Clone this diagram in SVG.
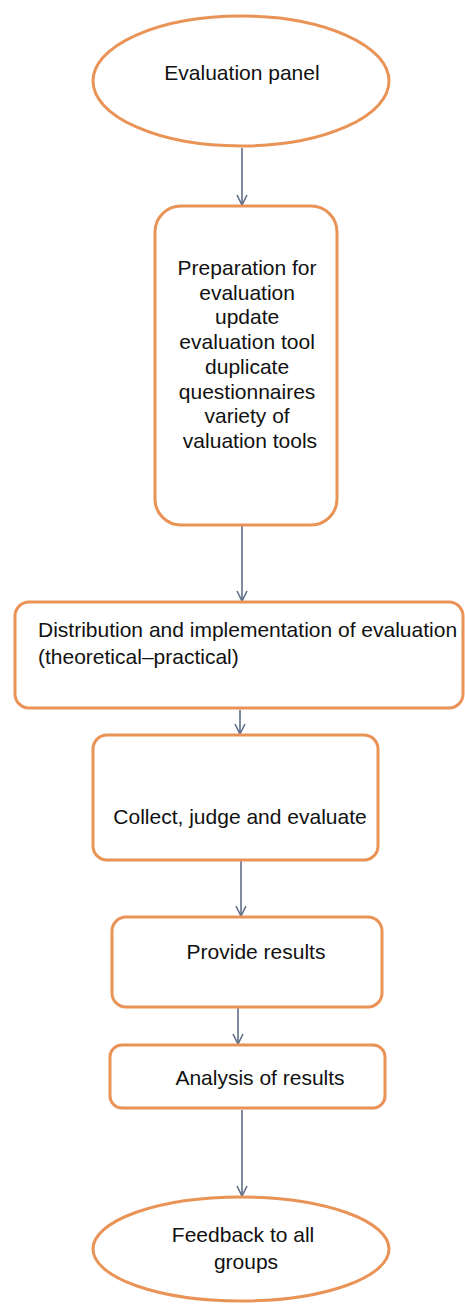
<svg xmlns="http://www.w3.org/2000/svg" width="465" height="1309" viewBox="0 0 465 1309">
<style>
.n{fill:#fff;stroke:#E99357;stroke-width:3}
.t{font-family:"Liberation Sans",Arial,sans-serif;font-size:21px;fill:#111}
.c{stroke:#5E6E8A;stroke-width:1.6;fill:none}
</style>
<defs>
<marker id="ah" viewBox="0 0 12 12" refX="11" refY="6" markerWidth="12" markerHeight="12" markerUnits="userSpaceOnUse" orient="auto">
<path d="M1,1 L11,6 L1,11" fill="none" stroke="#5E6E8A" stroke-width="1.6"/>
</marker>
</defs>
<rect width="465" height="1309" fill="#fff"/>
<g id="connectors">
<line class="c" x1="242" y1="148" x2="242" y2="205" marker-end="url(#ah)"/>
<line class="c" x1="242" y1="526" x2="242" y2="601" marker-end="url(#ah)"/>
<line class="c" x1="240" y1="710" x2="240" y2="734" marker-end="url(#ah)"/>
<line class="c" x1="241" y1="861" x2="241" y2="916" marker-end="url(#ah)"/>
<line class="c" x1="238" y1="1008" x2="238" y2="1044" marker-end="url(#ah)"/>
<line class="c" x1="242" y1="1110" x2="242" y2="1196" marker-end="url(#ah)"/>
</g>
<g id="n1">
<ellipse class="n" cx="241" cy="81" rx="148" ry="65"/>
<text class="t" x="242" y="80" text-anchor="middle">Evaluation panel</text>
</g>
<g id="n2">
<rect class="n" x="155" y="206" width="182" height="319" rx="26"/>
<text class="t" text-anchor="middle">
<tspan x="250" y="275">Preparation for</tspan>
<tspan x="250" y="299.7">evaluation</tspan>
<tspan x="250" y="324.4">update</tspan>
<tspan x="250" y="349.1">evaluation tool</tspan>
<tspan x="250" y="373.8">duplicate</tspan>
<tspan x="250" y="398.5">questionnaires</tspan>
<tspan x="250" y="423.2">variety of</tspan>
<tspan x="250" y="448">valuation tools</tspan>
</text>
</g>
<g id="n3">
<rect class="n" x="15" y="602" width="448" height="106" rx="14"/>
<text class="t">
<tspan x="38" y="637">Distribution and implementation of evaluation</tspan>
<tspan x="38" y="664">(theoretical–practical)</tspan>
</text>
</g>
<g id="n4">
<rect class="n" x="93" y="735" width="285" height="125" rx="14"/>
<text class="t" x="240" y="824" text-anchor="middle">Collect, judge and evaluate</text>
</g>
<g id="n5">
<rect class="n" x="112" y="917" width="270" height="90" rx="14"/>
<text class="t" x="256" y="959" text-anchor="middle">Provide results</text>
</g>
<g id="n6">
<rect class="n" x="110" y="1045" width="275" height="63" rx="12"/>
<text class="t" x="260" y="1085" text-anchor="middle">Analysis of results</text>
</g>
<g id="n7">
<ellipse class="n" cx="241" cy="1249" rx="148" ry="52"/>
<text class="t" text-anchor="middle">
<tspan x="246" y="1242">Feedback to all</tspan>
<tspan x="246" y="1269">groups</tspan>
</text>
</g>
</svg>
